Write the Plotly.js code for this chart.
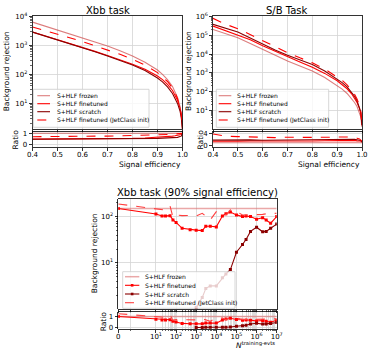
<!DOCTYPE html>
<html><head><meta charset="utf-8">
<script src="https://cdn.plot.ly/plotly-3.0.1.min.js"></script>
<style>html,body{margin:0;padding:0;background:#fff}#chart{width:374px;height:357px}</style>
</head><body><div id="chart"></div>
<script>
// ---------- data ----------
const eff = [0.4,0.45,0.5,0.55,0.6,0.65,0.7,0.75,0.8,0.85,0.9,0.92,0.94,0.96,0.97,0.98,0.99,0.995,1.0];
// Xbb task
const xbbFrozen    = [6300,4600,3550,2570,1860,1320,955,646,427,263,141,100,66,38,26,16,7.9,4.5,1.3];
const xbbFinetuned = [2900,2150,1600,1180,860,620,450,320,225,150,88,66,45,28,20,13,7,4,1.3];
const xbbScratch   = [2850,2100,1560,1150,830,600,430,300,210,135,75,55,37,22,15.5,10,5.5,3.3,1.3];
const xbbJetClass  = [4300,3250,2500,1850,1350,970,700,490,330,210,115,84,57,34,24,15,7.5,4.3,1.3];
// S/B task
const sbFrozen    = [209000,126000,75900,37200,18200,8900,4270,2340,1260,562,214,135,79,40,26,16,7.9,4.5,1.3];
const sbFinetuned = [316000,182000,112000,58900,28200,14100,7080,3800,2000,933,380,240,141,71,46,26,12.6,7.1,1.6];
const sbScratch   = [389000,240000,151000,72400,33100,16600,8710,4790,2750,1260,490,302,178,89,56,32,14,7.9,1.6];
const sbJetClass  = [813000,398000,229000,107000,50100,24000,12000,6310,3470,1580,631,398,229,112,71,40,17.8,8.9,2.0];
// Xbb task at 90% signal efficiency vs number of training events
const nEvts          = [0,10,20,30,50,70,100,200,500,1000,2000,3000,5000,10000,20000,30000,50000,100000,200000,300000,500000,1000000,2000000,3000000,5000000,10000000];
const nFrozenRange   = [0,10000000];
const n90Frozen      = 150;
const n90Finetuned   = [150,114,103,103,105,85,75,56,52,51,50,62,62,60,103,115,125,109,100,103,100,88,95,85,72,100];
const n90JetClass    = [187,150,146,138,170,97,108,105,106,103,118,100,85,128,128,108,139,130,108,108,108,110,112,115,115,118];
const nScratchEvts   = [1000,2000,3000,5000,10000,20000,30000,50000,100000,200000,300000,500000,1000000,2000000,3000000,5000000,10000000];
const n90Scratch     = [1.1,1.8,2.8,3.2,3.2,4.8,5.8,7.2,17,25,32,48,59,47,48,56,69];
const xTickN    = [0,10,100,1000,10000,100000,1000000,10000000];
const xTickText = ['0','10<sup>1</sup>','10<sup>2</sup>','10<sup>3</sup>','10<sup>4</sup>','10<sup>5</sup>','10<sup>6</sup>','10<sup>7</sup>'];
const labels = ['S+HLF frozen','S+HLF finetuned','S+HLF scratch','S+HLF finetuned (JetClass init)'];

// ---------- styles ----------
const W=374, H=357;
const C_FROZEN='rgba(205,70,70,0.7)', C_FT='#ff0000', C_SC='#8b0000', C_JC='#ff0000';
const C_FROZEN_B='rgba(220,110,110,0.6)', C_JC_B='#ff4040';
const FONT='DejaVu Sans';
const X = p => p/W, Y = p => 1 - p/H;

// symlog-like transform for the N axis
function symlog(n){ if(n<=0) return 0; if(n<1) return 0.63*n; if(n<10) return 0.63+1.24*Math.log10(n); return 0.87+Math.log10(n); }
const ratio = (a,b) => a.map((v,i)=>v/b[i]);

const traces=[];
function addSet(xa, ya, xr, yr, x, fr, ft, sc, jc){
  const L=(y,c,d,w,ax,ay)=>({x:x,y:y,type:'scatter',mode:'lines',line:{color:c,width:w,dash:d},xaxis:ax,yaxis:ay,showlegend:false,hoverinfo:'skip'});
  traces.push(L(fr,C_FROZEN,'solid',1.1,xa,ya));
  traces.push(L(ft,C_FT,'solid',1.1,xa,ya));
  traces.push(L(sc,C_SC,'solid',1.1,xa,ya));
  traces.push(L(jc,C_JC,'dash',1.1,xa,ya));
  traces.push(L(ratio(fr,fr),C_FROZEN,'solid',1.1,xr,yr));
  traces.push(L(ratio(ft,fr),C_FT,'solid',1.1,xr,yr));
  traces.push(L(ratio(sc,fr),C_SC,'solid',1.1,xr,yr));
  traces.push(L(ratio(jc,fr),C_JC,'dash',1.1,xr,yr));
}
addSet('x','y','x2','y2',eff,xbbFrozen,xbbFinetuned,xbbScratch,xbbJetClass);
addSet('x3','y3','x4','y4',eff,sbFrozen,sbFinetuned,sbScratch,sbJetClass);

// bottom panel
const nx = nEvts.map(symlog), nsx = nScratchEvts.map(symlog), nfx = nFrozenRange.map(symlog);
const mk = {size:3, symbol:'square'};
traces.push({x:nfx,y:[n90Frozen,n90Frozen],type:'scatter',mode:'lines',line:{color:C_FROZEN_B,width:1.5},xaxis:'x5',yaxis:'y5',showlegend:false,hoverinfo:'skip'});
traces.push({x:nx,y:n90Finetuned,type:'scatter',mode:'lines+markers',line:{color:C_FT,width:1.1},marker:Object.assign({color:C_FT},mk),xaxis:'x5',yaxis:'y5',showlegend:false,hoverinfo:'skip'});
traces.push({x:nsx,y:n90Scratch,type:'scatter',mode:'lines+markers',line:{color:C_SC,width:1.1},marker:Object.assign({color:C_SC},mk),xaxis:'x5',yaxis:'y5',showlegend:false,hoverinfo:'skip'});
traces.push({x:nx,y:n90JetClass,type:'scatter',mode:'lines',line:{color:C_JC_B,width:1.1,dash:'dash'},xaxis:'x5',yaxis:'y5',showlegend:false,hoverinfo:'skip'});
traces.push({x:nfx,y:[1,1],type:'scatter',mode:'lines',line:{color:C_FROZEN_B,width:1.5},xaxis:'x6',yaxis:'y6',showlegend:false,hoverinfo:'skip'});
traces.push({x:nx,y:n90Finetuned.map(v=>v/n90Frozen),type:'scatter',mode:'lines+markers',line:{color:C_FT,width:1.1},marker:Object.assign({color:C_FT},mk),xaxis:'x6',yaxis:'y6',showlegend:false,hoverinfo:'skip'});
traces.push({x:nsx,y:n90Scratch.map(v=>v/n90Frozen),type:'scatter',mode:'lines+markers',line:{color:C_SC,width:1.1},marker:Object.assign({color:C_SC},mk),xaxis:'x6',yaxis:'y6',showlegend:false,hoverinfo:'skip'});
traces.push({x:nx,y:n90JetClass.map(v=>v/n90Frozen),type:'scatter',mode:'lines',line:{color:C_JC_B,width:1.1,dash:'dash'},xaxis:'x6',yaxis:'y6',showlegend:false,hoverinfo:'skip'});

// ---------- axes ----------
const tf = {family:FONT,size:7,color:'#000'};
const base = {showline:true,linecolor:'#000',linewidth:0.8,mirror:true,ticks:'outside',ticklen:3,tickwidth:0.8,tickcolor:'#000',
  showgrid:true,gridcolor:'#d4d4d4',gridwidth:0.8,zeroline:false,tickfont:tf,fixedrange:true};
const A = o => Object.assign({}, base, o);
function pw(k0,k1){const a=[];for(let k=k0;k<k1;k++)for(let m=2;m<10;m++)a.push(m*Math.pow(10,k));return a;}
const logMinor = (k0,k1)=>({ticks:'outside',ticklen:1.6,tickwidth:0.6,tickcolor:'#000',tickmode:'array',tickvals:pw(k0,k1),showgrid:false});
const effTicks = {tickmode:'array',tickvals:[0.4,0.5,0.6,0.7,0.8,0.9,1.0],ticktext:['0.4','0.5','0.6','0.7','0.8','0.9','1.0']};

const layout = {
  width:W,height:H,margin:{l:0,r:0,t:0,b:0},paper_bgcolor:'#fff',plot_bgcolor:'#fff',showlegend:false,
  font:{family:FONT,size:7,color:'#000'},
  xaxis: A(Object.assign({domain:[X(32.5),X(182.5)],range:[0.4,1.0],anchor:'y',showticklabels:false},effTicks)),
  yaxis: A({domain:[Y(129),Y(16.3)],type:'log',range:[0.12,4],anchor:'x',tickmode:'array',tickvals:[10,100,1000,10000],
           ticktext:['10<sup>1</sup>','10<sup>2</sup>','10<sup>3</sup>','10<sup>4</sup>'],minor:logMinor(0,4)}),
  xaxis2: A(Object.assign({domain:[X(32.5),X(182.5)],range:[0.4,1.0],anchor:'y2',ticklabelstandoff:-2},effTicks)),
  yaxis2: A({domain:[Y(146.7),Y(131.8)],range:[-0.23,1.13],anchor:'x2',tickmode:'array',tickvals:[0,1],ticktext:['0','1']}),
  xaxis3: A(Object.assign({domain:[X(213),X(362)],range:[0.4,1.0],anchor:'y3',showticklabels:false},effTicks)),
  yaxis3: A({domain:[Y(129),Y(16.3)],type:'log',range:[0,6.02],anchor:'x3',tickmode:'array',tickvals:[10,100,1000,1e4,1e5,1e6],
           ticktext:['10<sup>1</sup>','10<sup>2</sup>','10<sup>3</sup>','10<sup>4</sup>','10<sup>5</sup>','10<sup>6</sup>'],minor:logMinor(0,6)}),
  xaxis4: A(Object.assign({domain:[X(213),X(362)],range:[0.4,1.0],anchor:'y4',ticklabelstandoff:-2},effTicks)),
  yaxis4: A({domain:[Y(146.7),Y(131.8)],range:[-0.3,4.6],anchor:'x4',tickmode:'array',tickvals:[0,4],ticktext:['0','4']}),
  xaxis5: A({domain:[X(118.3),X(276.7)],range:[0,symlog(1e7)],anchor:'y5',showticklabels:false,tickmode:'array',
            tickvals:[symlog(1)].concat(xTickN.map(symlog)),minor:{ticks:'outside',ticklen:1.6,tickwidth:0.6,tickcolor:'#000',tickmode:'array',tickvals:pw(1,7).map(symlog),showgrid:false}}),
  yaxis5: A({domain:[Y(309.3),Y(199)],type:'log',range:[0,2.38],anchor:'x5',tickmode:'array',tickvals:[10,100],
            ticktext:['10<sup>1</sup>','10<sup>2</sup>'],minor:logMinor(0,3)}),
  xaxis6: A({domain:[X(118.3),X(276.7)],range:[0,symlog(1e7)],anchor:'y6',tickmode:'array',ticklabelstandoff:-2,
            tickvals:xTickN.map(symlog),ticktext:xTickText,
            minor:{ticks:'outside',ticklen:1.6,tickwidth:0.6,tickcolor:'#000',tickmode:'array',tickvals:[symlog(1)].concat(pw(1,7).map(symlog)),showgrid:true,gridcolor:'#d4d4d4',gridwidth:0.8}}),
  yaxis6: A({domain:[Y(329),Y(311.7)],range:[-0.13,1.43],anchor:'x6',tickmode:'array',tickvals:[0,1],ticktext:['0','1']}),
  annotations:[], shapes:[]
};

const ann = (text,x,y,o) => layout.annotations.push(Object.assign({text:text,x:X(x),y:Y(y),xref:'paper',yref:'paper',showarrow:false,
  font:{family:FONT,size:7.5,color:'#000'},xanchor:'center',yanchor:'middle'},o||{}));
// titles
ann('Xbb task',108,10,{font:{family:FONT,size:10,color:'#000'}});
ann('S/B Task',287,10,{font:{family:FONT,size:10,color:'#000'}});
ann('Xbb task (90% signal efficiency)',197.5,192.5,{font:{family:FONT,size:10,color:'#000'}});
// axis labels
ann('Background rejection',7.3,71,{textangle:-90});
ann('Ratio',15,139.5,{textangle:-90});
ann('Signal efficiency',183,164.5,{xanchor:'right'});
ann('Background rejection',189,71,{textangle:-90});
ann('Ratio',200,139.5,{textangle:-90});
ann('Signal efficiency',362,164.5,{xanchor:'right'});
ann('Background rejection',94.3,253,{textangle:-90});
ann('Ratio',103.3,321,{textangle:-90});
ann('<i>N</i><sup>training-evts</sup>',277,344.5,{xanchor:'right'});

// manual legends
function legend(bx0,by0,bx1,by1,sx0,sx1,tx,ys,styles){
  layout.shapes.push({type:'rect',xref:'paper',yref:'paper',x0:X(bx0),x1:X(bx1),y0:Y(by0),y1:Y(by1),
    fillcolor:'rgba(255,255,255,0.8)',line:{color:'#cccccc',width:0.8},layer:'above'});
  styles.forEach((s,i)=>{
    layout.shapes.push({type:'line',xref:'paper',yref:'paper',x0:X(sx0),x1:X(sx1),y0:Y(ys[i]),y1:Y(ys[i]),
      line:{color:s.c,width:s.w,dash:s.d},layer:'above'});
    if(s.m){ const cx=(sx0+sx1)/2;
      layout.shapes.push({type:'rect',xref:'paper',yref:'paper',x0:X(cx-1.3),x1:X(cx+1.3),y0:Y(ys[i]+1.3),y1:Y(ys[i]-1.3),
        fillcolor:s.c,line:{width:0},layer:'above'}); }
    ann(labels[i],tx,ys[i],{xanchor:'left',font:{family:FONT,size:6,color:'#000'}});
  });
}
const stTop=[{c:C_FROZEN,w:1.1,d:'solid'},{c:C_FT,w:1.1,d:'solid'},{c:C_SC,w:1.1,d:'solid'},{c:C_JC,w:1.1,d:'dash'}];
legend(33.3,89.3,149,127.3,37.3,50,55,[95.7,103.7,111.7,120],stTop);
legend(216.3,89.3,328.7,127.3,218.7,231.3,234.7,[95.7,103.7,111.7,120],stTop);
const stBot=[{c:C_FROZEN_B,w:1.5,d:'solid'},{c:C_FT,w:1.1,d:'solid',m:true},{c:C_SC,w:1.1,d:'solid',m:true},{c:C_JC_B,w:1.1,d:'dash'}];
legend(122.7,271.7,235,308.3,125,139.3,142.7,[276.7,285.3,294,302.7],stBot);

Plotly.newPlot('chart',traces,layout,{displayModeBar:false,staticPlot:true});
</script></body></html>
